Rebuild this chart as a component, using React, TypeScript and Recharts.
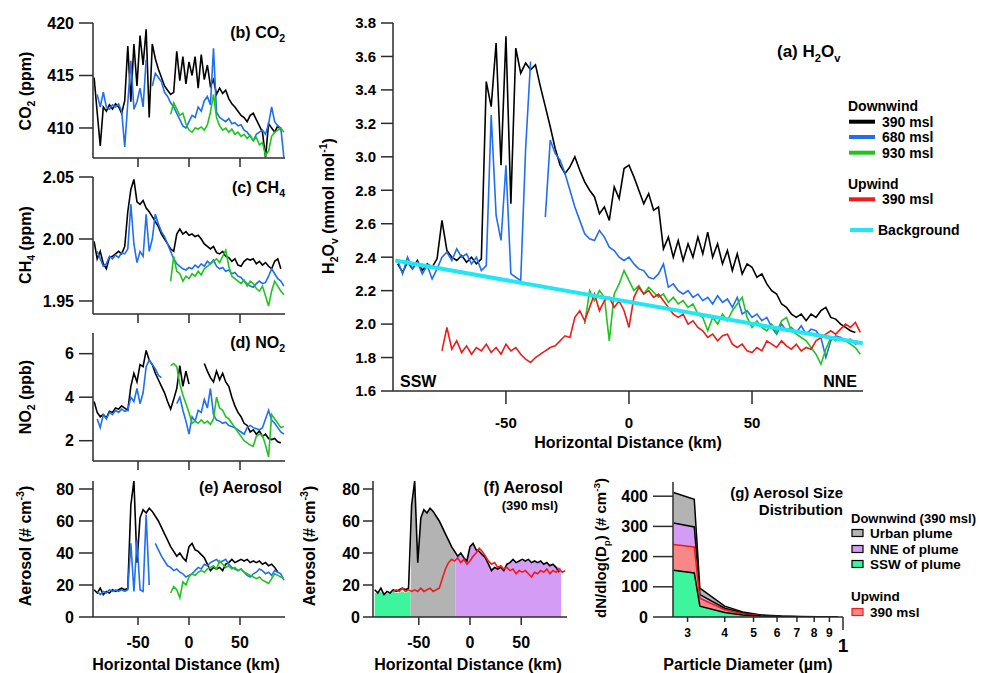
import React from 'react';
import { LineChart, ComposedChart, Line, Area, XAxis, YAxis } from 'recharts';

// ---------- distance grids (km) ----------
const KM_A = [
  -94, -92, -90, -88, -86, -84, -82, -80, -78, -76,
  -74, -72, -70, -68, -66, -64, -62, -60, -58, -56,
  -54, -52, -50, -48, -46, -44, -42, -40, -38, -36,
  -34, -32, -30, -28, -26, -24, -22, -20, -18, -16,
  -14, -12, -10, -8, -6, -4, -2, 0, 2, 4,
  6, 8, 10, 12, 14, 16, 18, 20, 22, 24,
  26, 28, 30, 32, 34, 36, 38, 40, 42, 44,
  46, 48, 50, 52, 54, 56, 58, 60, 62, 64,
  66, 68, 70, 72, 74, 76, 78, 80, 82, 84,
  86, 88, 90, 92, 94,
];
const KM_S = [
  -93, -90, -87, -84, -81, -78, -75, -72, -69, -66,
  -63, -60, -57, -54, -51, -48, -45, -42, -39, -36,
  -33, -30, -27, -24, -21, -18, -15, -12, -9, -6,
  -3, 0, 3, 6, 9, 12, 15, 18, 21, 24,
  27, 30, 33, 36, 39, 42, 45, 48, 51, 54,
  57, 60, 63, 66, 69, 72, 75, 78, 81, 84,
  87, 90, 93,
];

// ---------- (a) H2Ov (mmol/mol) ----------
const A_BLACK = [
  2.36, 2.31, 2.37, 2.33, 2.38, 2.32, 2.36, 2.34, 2.39, 2.62,
  2.44, 2.40, 2.38, 2.41, 2.37, 2.40, 2.36, 2.39, 3.45, 3.30,
  3.68, 2.95, 3.72, 2.72, 3.65, 3.50, 3.56, 3.52, 3.55, 3.42,
  3.30, 3.18, 3.05, 2.95, 2.90, 2.94, 3.00, 2.92, 2.85, 2.80,
  2.76, 2.66, 2.70, 2.62, 2.82, 2.75, 2.93, 2.95, 2.88, 2.80,
  2.72, 2.78, 2.68, 2.70, 2.45, 2.52, 2.40, 2.50, 2.38, 2.48,
  2.40, 2.52, 2.42, 2.55, 2.40, 2.48, 2.36, 2.44, 2.32, 2.42,
  2.30, 2.36, 2.34, 2.28, 2.30, 2.24, 2.20, 2.18, 2.12, 2.10,
  2.06, 2.04, 2.06, 2.02, 2.06, 2.04, 2.08, 2.10, 2.04, 2.03,
  2.00, 1.98, 1.96, 1.95, null,
];
const A_BLUE = [
  2.38, 2.30, 2.40, 2.33, 2.37, 2.30, 2.35, 2.27, 2.33, 2.40,
  2.43, 2.38, 2.45, 2.40, 2.42, 2.36, 2.40, 2.32, 2.35, 3.25,
  2.65, 2.50, 2.95, 2.30, 2.28, 2.26, 3.05, 3.57, null, null,
  2.64, 3.10, 3.02, 2.98, 2.90, 2.80, 2.70, 2.62, 2.54, 2.51,
  2.50, 2.56, 2.52, 2.46, 2.44, 2.40, 2.38, 2.40, 2.36, 2.33,
  2.32, 2.28, 2.27, 2.30, 2.36, 2.22, 2.24, 2.20, 2.18, 2.20,
  2.16, 2.18, 2.14, 2.16, 2.12, 2.17, 2.13, 2.15, 2.10, 2.16,
  2.06, 2.08, 2.04, 2.06, 2.02, 2.04, 1.98, 1.94, 2.00, 1.96,
  1.98, 1.95, 1.99, 1.94, 1.97, 1.96, 1.92, 1.80, 1.90, 1.93,
  1.92, 1.90, 1.91, 1.88, 1.89,
];
const A_GREEN = [
  null, null, null, null, null, null, null, null, null, null,
  null, null, null, null, null, null, null, null, null, null,
  null, null, null, null, null, null, null, null, null, null,
  null, null, null, null, null, null, null, null, 2.00, 2.20,
  2.14, 2.20, 2.16, 1.90, 2.18, 2.24, 2.32, 2.26, 2.20, 2.23,
  2.18, 2.22, 2.19, 2.16, 2.18, 2.13, 2.16, 2.12, 2.14, 2.10,
  2.12, 2.06, 2.04, 1.96, 2.04, 2.00, 2.06, 2.02, 2.08, 2.12,
  2.16, 2.04, 1.98, 2.02, 1.98, 1.96, 2.00, 1.95, 2.02, 2.04,
  1.96, 1.94, 1.92, 1.90, 1.86, 1.82, 1.76, 1.85, 1.92, 1.90,
  1.92, 1.90, 1.88, 1.86, 1.82,
];
const A_RED = [
  null, null, null, null, null, null, null, null, null, 1.84,
  1.98, 1.85, 1.90, 1.83, 1.87, 1.82, 1.86, 1.84, 1.88, 1.83,
  1.86, 1.82, 1.88, 1.84, 1.86, 1.82, 1.79, 1.77, 1.80, 1.82,
  1.84, 1.86, 1.87, 1.90, 1.93, 1.92, 2.04, 2.08, 2.02, 2.10,
  2.18, 2.08, 2.14, 2.16, 2.10, 2.14, 2.08, 1.98, 2.16, 2.22,
  2.18, 2.20, 2.16, 2.18, 2.14, 2.10, 2.06, 2.04, 2.06, 2.00,
  2.02, 1.98, 1.96, 1.92, 1.94, 1.90, 1.93, 1.94, 1.88, 1.86,
  1.88, 1.84, 1.83, 1.86, 1.84, 1.90, 1.88, 1.86, 1.90, 1.87,
  1.85, 1.88, 1.84, 1.86, 1.85, 1.90, 1.92, 1.94, 1.96, 1.94,
  1.97, 2.00, 1.98, 2.01, 1.95,
];
const BG_KM = [-95, 95];
const BG = [2.38, 1.885];

// ---------- (b) CO2 (ppm) ----------
const B_BLACK = [
  414.8, 411.5, 408.3, 412.0, 411.6, 412.2, 411.8, 412.3, 412.0, 411.4,
  412.6, 417.8, 412.5, 418.0, 414.0, 418.8, 416.0, 419.4, 411.0, 418.0,
  416.6, 415.6, 414.8, 414.0, 413.6, 413.2, 413.4, 417.3, 414.5, 416.8,
  414.2, 416.3, 415.0, 416.8, 413.8, 417.0, 414.6, 416.0, 414.0, 414.6,
  413.2, 413.8, 413.3, 413.6, 412.8, 412.3, 412.0, 411.6, 411.2, 411.0,
  410.6, 411.2, 411.4, 410.8, 410.2, 409.6, 407.2, 410.4, 410.0, 409.6,
  410.2, 409.8, null,
];
const B_BLUE = [
  null, 413.2, 412.0, 413.4, 412.0, 411.8, 412.2, 412.0, 412.3, 411.6,
  408.2, 412.4, 416.4, 411.8, 412.5, 413.8, 412.0, 416.5, null, 414.0,
  415.2, 414.8, 414.4, 413.4, 413.0, 412.4, 412.0, 411.4, 410.8, 410.2,
  410.0, 410.6, 411.2, 411.0, 412.0, 411.6, 412.6, 413.0, 412.2, 417.6,
  411.5, 411.0, 410.8, 410.6, 410.9, 410.4, 410.5, 410.2, 410.3, 409.8,
  409.6, 409.2, 408.8, 409.4, 409.6, 409.8, 409.4, 410.4, 412.0, 410.6,
  410.2, 410.0, 407.2,
];
const B_GREEN = [
  null, null, null, null, null, null, null, null, null, null,
  null, null, null, null, null, null, null, null, null, null,
  null, null, null, null, null, 411.3, 412.4, 411.8, 411.2, 411.4,
  410.4, 409.8, 409.6, 410.0, 409.9, 410.1, 409.8, 410.3, 411.5, 413.2,
  411.0, 410.2, 409.8, 410.0, 409.6, 409.9, 409.4, 409.6, 409.2, 409.4,
  409.0, 409.3, 408.8, 409.1, 408.4, 408.6, 407.4, 407.8, 409.2, 409.6,
  409.8, 410.0, 409.6,
];

// ---------- (c) CH4 (ppm) ----------
const C_BLACK = [
  1.998, 1.984, 1.990, 1.980, 1.976, 1.985, 1.986, 1.988, 1.990, 1.988,
  1.994, 2.022, 2.040, 2.048, 2.030, 2.028, 2.031, 2.025, 2.022, 2.018,
  2.014, 2.010, 2.004, 2.000, 1.996, 1.992, 1.990, 2.004, 2.008, 2.004,
  2.006, 2.003, 2.004, 2.002, 2.003, 2.000, 1.996, 1.994, 1.992, 1.994,
  1.989, 1.988, 1.990, 1.986, 1.985, 1.982, 1.984, 1.979, 1.978, 1.982,
  1.984, 1.983, 1.984, 1.980, 1.982, 1.979, 1.981, 1.978, 1.976, 1.982,
  1.984, 1.976, null,
];
const C_BLUE = [
  null, 1.990, 1.984, 1.978, 1.980, 1.986, 1.984, 1.987, 1.985, 1.989,
  1.988, 1.992, 2.028, 1.996, 1.981, 1.990, 1.986, 2.020, 1.990, 2.000,
  2.020, 2.012, 2.006, 2.002, 1.996, 1.990, 1.984, 1.980, 1.978, 1.976,
  1.975, 1.977, 1.976, 1.979, 1.977, 1.980, 1.978, 1.982, 1.980, 1.983,
  1.978, 1.976, 1.977, 1.974, 1.975, 1.972, 1.973, 1.970, 1.969, 1.966,
  1.964, 1.962, 1.961, 1.964, 1.966, 1.964, 1.965, 1.970, 1.976, 1.972,
  1.968, 1.966, 1.962,
];
const C_GREEN = [
  null, null, null, null, null, null, null, null, null, null,
  null, null, null, null, null, null, null, null, null, null,
  null, null, null, null, null, 1.966, 1.986, 1.974, 1.972, 1.966,
  1.970, 1.968, 1.972, 1.970, 1.974, 1.971, 1.976, 1.978, 1.980, 1.982,
  1.984, 1.981, 1.986, 1.991, 1.978, 1.970, 1.968, 1.966, 1.964, 1.967,
  1.962, 1.966, 1.964, 1.960, 1.958, 1.962, 1.954, 1.946, 1.958, 1.966,
  1.962, 1.958, 1.955,
];

// ---------- (d) NO2 (ppb) ----------
const D_BLACK = [
  3.80, 3.30, 3.10, 3.20, 3.05, 3.35, 3.30, 3.50, 3.45, 3.60,
  3.50, 3.40, 4.50, 5.10, 4.70, 5.50, 5.40, 6.15, 5.70, 5.50,
  5.10, 4.80, 4.50, 4.20, 3.80, 3.45, 3.90, 4.40, 5.45, 4.50,
  5.20, 4.60, null, null, null, null, 5.55, 5.20, 4.90, 4.70,
  5.20, 4.80, 5.10, 4.70, 4.50, 4.00, 3.60, 3.30, 3.10, 2.80,
  2.70, 2.40, 2.50, 2.30, 2.45, 2.20, 2.30, 2.10, 2.05, 2.10,
  1.95, 1.90, null,
];
const D_BLUE = [
  null, 3.00, 2.60, 3.20, 3.00, 3.30, 3.20, 3.40, 3.30, 3.45,
  3.35, 3.40, 4.00, 3.80, 4.40, 3.70, 4.20, 5.40, 5.70, 5.50,
  5.30, 5.00, 4.90, null, null, null, null, 3.70, 4.00, 3.40,
  2.90, 2.30, 3.10, 2.90, 3.40, 3.30, 3.90, 3.50, 4.40, 3.20,
  2.95, 2.90, 2.80, 2.85, 2.70, 2.65, 2.60, 2.50, 2.40, 2.30,
  2.60, 2.70, 2.60, 2.55, 2.50, 2.60, 3.00, 3.40, 2.95, 2.80,
  2.60, 2.40, 2.30,
];
const D_GREEN = [
  null, null, null, null, null, null, null, null, null, null,
  null, null, null, null, null, null, null, null, null, null,
  null, null, null, null, null, 5.45, 5.55, 5.40, 4.60, 4.10,
  3.70, 3.30, 2.80, 2.90, 2.80, 2.95, 2.80, 2.90, 2.75, 3.00,
  4.00, 3.50, 3.40, 3.10, 3.00, 2.80, 2.60, 2.40, 2.20, 2.00,
  1.90, 1.80, 1.75, 2.20, 2.30, 2.25, 1.80, 1.25, 3.20, 3.00,
  2.80, 2.60, 2.65,
];

// ---------- (e) Aerosol (# cm-3) ----------
const E_BLACK = [
  17, 15, 18, 14, 16, 15, 17, 16, 17, 18,
  17, 18, 70, 85, 34, 62, 67, 65, 68, 66,
  63, 60, 56, 52, 48, 44, 41, 38, 40, 37,
  35, 44, 46, 42, 41, 39, 37, 33, 29, 31,
  30, 31, 29, 33, 34, 36, 34, 35, 36, 35,
  36, 34, 35, 34, 35, 33, 34, 32, 33, 31,
  28, null, null,
];
const E_BLUE = [
  null, 16, 14, 16, 15, 17, 16, 17, 16, 17,
  16, 17, 46, 16, 48, 17, 16, 64, 20, null,
  46, 42, 38, 35, 32, 31, 29, 30, 28, 27,
  25, 26, 27, 29, 31, 30, 33, 32, 34, 35,
  36, 34, 35, 36, 33, 31, 30, 29, 30, 28,
  26, 25, 27, 28, 30, 29, 27, 28, 26, 29,
  28, 27, 23,
];
const E_GREEN = [
  null, null, null, null, null, null, null, null, null, null,
  null, null, null, null, null, null, null, null, null, null,
  null, null, null, null, null, 15, 19, 17, 12, 22,
  20, 25, 27, 26, 28, 29, 28, 30, 31, 32,
  30, 35, 33, 31, 32, 30, 31, 29, 30, 28,
  27, 26, 25, 24, 25, 23, 22, 21, 24, 27,
  26, 25, 24,
];

// ---------- (f) Aerosol at 390 msl ----------
const F_RED = [
  null, null, null, null, null, null, 16, 17, 16, 18,
  16, 17, 16, 17, 16, 18, 16, 17, 18, 16,
  17, 18, 24, 30, 34, 36, 35, 37, 34, 36,
  33, 35, 38, 40, 43, 41, 38, 35, 33, 34,
  31, 32, 30, 31, 29, 30, 27, 29, 28, 29,
  27, 25, 28, 27, 29, 28, 30, 27, 29, 28,
  30, 28, 29,
];
const SSW_KM = [-93, -90, -87, -84, -81, -78, -75, -72, -69, -66, -63, -60, -58];
const SSW_VAL = [15, 15, 16, 14, 15, 15, 16, 15, 15, 16, 15, 16, 16];
const URB_KM = [-58, -57, -54, -51, -48, -45, -42, -39, -36, -33, -30, -27, -24, -21, -18, -15, -14];
const URB_VAL = [17, 70, 85, 34, 62, 67, 65, 68, 66, 63, 60, 56, 52, 48, 44, 41, 40];
const NNE_KM = [
  -14, -12, -9, -6, -3, 0, 3, 6, 9, 12, 15, 18, 21, 24, 27, 30, 33, 36,
  39, 42, 45, 48, 51, 54, 57, 60, 63, 66, 69, 72, 75, 78, 81, 84, 87, 89,
];
const NNE_VAL = [
  40, 38, 40, 37, 35, 44, 46, 42, 41, 39, 37, 33, 30, 31, 30, 31, 30, 33,
  34, 35, 34, 35, 35, 35, 35, 34, 35, 34, 35, 33, 34, 33, 33, 32, 31, 31,
];

// ---------- (g) Aerosol size distribution ----------
const G_DP = [2.69, 3.16, 3.3, 4.0, 4.6, 5.3, 6.2, 7.2, 8.3, 9.6];
const G_URBAN = [412, 390, 96, 36, 17, 7, 3, 1.5, 1, 0.5];
const G_NNE = [311, 298, 74, 29, 13, 5, 2, 1, 0.5, 0.3];
const G_UP = [240, 232, 62, 24, 11, 4.5, 2, 1, 0.5, 0.3];
const G_SSW = [155, 146, 36, 15, 7, 3, 1.5, 0.8, 0.4, 0.2];

// ---------- tick values ----------
const KM_TICKS = [-50, 0, 50];
const A_YTICKS = [1.6, 1.8, 2.0, 2.2, 2.4, 2.6, 2.8, 3.0, 3.2, 3.4, 3.6, 3.8];
const B_YTICKS = [410, 415, 420];
const C_YTICKS = [1.95, 2.0, 2.05];
const D_YTICKS = [2, 4, 6];
const E_YTICKS = [0, 20, 40, 60, 80];
const G_YTICKS = [0, 100, 200, 300, 400];
const G_XTICKS = [3, 4, 5, 6, 7, 8, 9, 10];

// ---------- styling ----------
const FONT = "'Liberation Sans', Arial, Helvetica, sans-serif";
const AXIS = '#2b2b2b';
const COL = {
  black: '#000000',
  blue: '#1f6ff0',
  green: '#1fc41f',
  red: '#ee1b1b',
  cyan: '#22e6f2',
  gray: '#b3b3b3',
  purple: '#d59cf6',
  mint: '#3cf59c',
  salmon: '#f88888',
};

type Pt = { x: number; y: number | null };
const pts = (xs: number[], ys: (number | null)[]): Pt[] => xs.map((x, i) => ({ x, y: ys[i] }));

const L = 70;
const T = 8;
const R = 8;
const B = 50;

const tickStyle = (size: number) => ({ fill: '#000', fontSize: size, fontWeight: 'bold', fontFamily: FONT });
const axisLine = { stroke: AXIS, strokeWidth: 1.5 };

function Panel(props: { x0: number; y0: number; x1: number; y1: number; composed?: boolean; children: React.ReactNode }) {
  const { x0, y0, x1, y1, composed, children } = props;
  const width = x1 - x0 + L + R;
  const height = y1 - y0 + T + B;
  const Chart: any = composed ? ComposedChart : LineChart;
  return (
    <div style={{ position: 'absolute', left: x0 - L, top: y0 - T }}>
      <Chart width={width} height={height} margin={{ top: T, right: R, left: 0, bottom: 0 }}>
        {children}
      </Chart>
    </div>
  );
}

type Part = string | { t: string; s: 'sub' | 'sup' };
function RichText(props: { x: number; y: number; parts: Part[]; size: number; anchor?: 'start' | 'middle' | 'end'; rotate?: boolean }) {
  const { x, y, parts, size, anchor = 'start', rotate = false } = props;
  let shift = 0;
  const kids = parts.map((p, i) => {
    if (typeof p === 'string') {
      const dy = -shift;
      shift = 0;
      return (
        <tspan key={i} dy={dy}>
          {p}
        </tspan>
      );
    }
    const target = p.s === 'sub' ? size * 0.28 : -size * 0.42;
    const dy = target - shift;
    shift = target;
    return (
      <tspan key={i} dy={dy} fontSize={size * 0.66}>
        {p.t}
      </tspan>
    );
  });
  return (
    <text
      x={x}
      y={y}
      fontSize={size}
      fontWeight="bold"
      fontFamily={FONT}
      fill="#000"
      textAnchor={anchor}
      transform={rotate ? `rotate(-90 ${x} ${y})` : undefined}
    >
      {kids}
    </text>
  );
}

const LogTick = (props: any) => {
  const { x, y, payload } = props;
  const v = payload.value;
  const big = v >= 10;
  return (
    <g>
      <line x1={x} x2={x} y1={y} y2={y + (big ? 13 : 5)} stroke={AXIS} strokeWidth={1.5} />
      <text
        x={x}
        y={big ? y + 35 : y + 20}
        textAnchor="middle"
        fontSize={big ? 19 : 12}
        fontWeight="bold"
        fontFamily={FONT}
        fill="#000"
      >
        {big ? '1' : String(v)}
      </text>
    </g>
  );
};

const blank = () => '';

function kmAxis(domain: [number, number], labels: boolean, tickSize: number, tickMargin: number, fontSize: number) {
  return (
    <XAxis
      type="number"
      dataKey="x"
      domain={domain}
      allowDataOverflow
      ticks={KM_TICKS}
      interval={0}
      height={B}
      axisLine={axisLine}
      tickLine={axisLine}
      tickSize={tickSize}
      tickMargin={tickMargin}
      tick={tickStyle(fontSize)}
      tickFormatter={labels ? undefined : blank}
    />
  );
}

function yAxis(domain: [number, number], ticks: number[], fmt: (v: number) => string, tickSize: number, tickMargin: number, fontSize: number) {
  return (
    <YAxis
      type="number"
      domain={domain}
      allowDataOverflow
      ticks={ticks}
      interval={0}
      width={L}
      axisLine={axisLine}
      tickLine={axisLine}
      tickSize={tickSize}
      tickMargin={tickMargin}
      tick={tickStyle(fontSize)}
      tickFormatter={fmt}
    />
  );
}

function series(xs: number[], ys: (number | null)[], color: string, w = 1.6) {
  return (
    <Line
      data={pts(xs, ys)}
      dataKey="y"
      type="linear"
      stroke={color}
      strokeWidth={w}
      dot={false}
      activeDot={false}
      connectNulls={false}
      isAnimationActive={false}
    />
  );
}

const f0 = (v: number) => String(v);
const f1 = (v: number) => v.toFixed(1);
const f2 = (v: number) => v.toFixed(2);

const SMALL_KM: [number, number] = [-94.1, 94.1];

export default function App() {
  return (
    <div style={{ position: 'absolute', left: 0, top: 0, width: 983, height: 673, background: '#fff', overflow: 'hidden' }}>
      {/* (a) H2Ov */}
      <Panel x0={393} y0={23} x1={863} y1={391}>
        {kmAxis([-95.9, 95.1], true, 13, 13, 15)}
        {yAxis([1.6, 3.8], A_YTICKS, f1, 12, 5, 15)}
        {series(KM_A, A_BLACK, COL.black)}
        {series(KM_A, A_BLUE, COL.blue)}
        {series(KM_A, A_GREEN, COL.green)}
        {series(KM_A, A_RED, COL.red)}
        {series(BG_KM, BG, COL.cyan, 4)}
      </Panel>

      {/* (b) CO2 */}
      <Panel x0={93} y0={23} x1={285} y1={158}>
        {kmAxis(SMALL_KM, false, 9, 4, 16)}
        {yAxis([407.14, 420], B_YTICKS, f0, 14, 5, 16)}
        {series(KM_S, B_BLACK, COL.black)}
        {series(KM_S, B_BLUE, COL.blue)}
        {series(KM_S, B_GREEN, COL.green)}
      </Panel>

      {/* (c) CH4 */}
      <Panel x0={93} y0={177} x1={285} y1={314}>
        {kmAxis(SMALL_KM, false, 9, 4, 16)}
        {yAxis([1.9395, 2.05], C_YTICKS, f2, 14, 5, 16)}
        {series(KM_S, C_BLACK, COL.black)}
        {series(KM_S, C_BLUE, COL.blue)}
        {series(KM_S, C_GREEN, COL.green)}
      </Panel>

      {/* (d) NO2 */}
      <Panel x0={93} y0={333} x1={285} y1={461}>
        {kmAxis(SMALL_KM, false, 9, 4, 16)}
        {yAxis([1.067, 6.95], D_YTICKS, f0, 14, 5, 16)}
        {series(KM_S, D_BLACK, COL.black)}
        {series(KM_S, D_BLUE, COL.blue)}
        {series(KM_S, D_GREEN, COL.green)}
      </Panel>

      {/* (e) Aerosol */}
      <Panel x0={93} y0={481} x1={285} y1={617}>
        {kmAxis(SMALL_KM, true, 8, 12, 16)}
        {yAxis([0, 85], E_YTICKS, f0, 14, 5, 16)}
        {series(KM_S, E_BLACK, COL.black)}
        {series(KM_S, E_BLUE, COL.blue)}
        {series(KM_S, E_GREEN, COL.green)}
      </Panel>

      {/* (f) Aerosol 390 msl */}
      <Panel x0={373} y0={481} x1={567} y1={617} composed>
        {kmAxis([-94.7, 94.7], true, 8, 12, 16)}
        {yAxis([0, 85], E_YTICKS, f0, 10, 3, 16)}
        <Area data={pts(SSW_KM, SSW_VAL)} dataKey="y" type="linear" fill={COL.mint} fillOpacity={1} stroke="none" isAnimationActive={false} />
        <Area data={pts(URB_KM, URB_VAL)} dataKey="y" type="linear" fill={COL.gray} fillOpacity={1} stroke="none" isAnimationActive={false} />
        <Area data={pts(NNE_KM, NNE_VAL)} dataKey="y" type="linear" fill={COL.purple} fillOpacity={1} stroke="none" isAnimationActive={false} />
        {series(KM_S, E_BLACK, COL.black)}
        {series(KM_S, F_RED, COL.red)}
      </Panel>

      {/* (g) size distribution */}
      <Panel x0={673} y0={482} x1={843} y1={617} composed>
        <XAxis
          type="number"
          dataKey="x"
          scale="log"
          domain={[2.68, 10]}
          allowDataOverflow
          ticks={G_XTICKS}
          interval={0}
          height={B}
          axisLine={axisLine}
          tickLine={false}
          tickSize={0}
          tickMargin={0}
          tick={<LogTick />}
        />
        {yAxis([0, 447], G_YTICKS, f0, 20, 5, 16)}
        <Area data={pts(G_DP, G_URBAN)} dataKey="y" type="linear" fill={COL.gray} fillOpacity={1} stroke="#000" strokeWidth={1.5} isAnimationActive={false} />
        <Area data={pts(G_DP, G_NNE)} dataKey="y" type="linear" fill={COL.purple} fillOpacity={1} stroke="#000" strokeWidth={1.5} isAnimationActive={false} />
        <Area data={pts(G_DP, G_UP)} dataKey="y" type="linear" fill={COL.salmon} fillOpacity={1} stroke={COL.red} strokeWidth={1.5} isAnimationActive={false} />
        <Area data={pts(G_DP, G_SSW)} dataKey="y" type="linear" fill={COL.mint} fillOpacity={1} stroke="#000" strokeWidth={1.5} isAnimationActive={false} />
      </Panel>

      {/* text overlay */}
      <svg width={983} height={673} style={{ position: 'absolute', left: 0, top: 0, pointerEvents: 'none' }}>
        {/* (a) */}
        <RichText x={777} y={57} size={17} parts={['(a) H', { t: '2', s: 'sub' }, 'O', { t: 'v', s: 'sub' }]} />
        <RichText x={848} y={111} size={14} parts={['Downwind']} />
        <line x1={849} x2={875} y1={121.7} y2={121.7} stroke={COL.black} strokeWidth={4} />
        <RichText x={882} y={126.5} size={14} parts={['390 msl']} />
        <line x1={849} x2={875} y1={137} y2={137} stroke={COL.blue} strokeWidth={4} />
        <RichText x={882} y={142} size={14} parts={['680 msl']} />
        <line x1={849} x2={875} y1={152.7} y2={152.7} stroke={COL.green} strokeWidth={4} />
        <RichText x={882} y={157.5} size={14} parts={['930 msl']} />
        <RichText x={848} y={189} size={14} parts={['Upwind']} />
        <line x1={849} x2={875} y1={199.3} y2={199.3} stroke={COL.red} strokeWidth={4} />
        <RichText x={882} y={204} size={14} parts={['390 msl']} />
        <line x1={850} x2={873} y1={230} y2={230} stroke={COL.cyan} strokeWidth={4} />
        <RichText x={878} y={235} size={14} parts={['Background']} />
        <RichText x={400} y={387} size={16} parts={['SSW']} />
        <RichText x={857} y={387} size={16} anchor="end" parts={['NNE']} />
        <RichText x={334} y={206} size={16} anchor="middle" rotate parts={['H', { t: '2', s: 'sub' }, 'O', { t: 'v', s: 'sub' }, ' (mmol mol', { t: '-1', s: 'sup' }, ')']} />
        <RichText x={628} y={448} size={16} anchor="middle" parts={['Horizontal Distance (km)']} />

        {/* (b)-(d) */}
        <RichText x={285} y={38} size={16} anchor="end" parts={['(b) CO', { t: '2', s: 'sub' }]} />
        <RichText x={31} y={91} size={16} anchor="middle" rotate parts={['CO', { t: '2', s: 'sub' }, ' (ppm)']} />
        <RichText x={285} y={193} size={16} anchor="end" parts={['(c) CH', { t: '4', s: 'sub' }]} />
        <RichText x={31} y={245} size={16} anchor="middle" rotate parts={['CH', { t: '4', s: 'sub' }, ' (ppm)']} />
        <RichText x={285} y={348} size={16} anchor="end" parts={['(d) NO', { t: '2', s: 'sub' }]} />
        <RichText x={31} y={397} size={16} anchor="middle" rotate parts={['NO', { t: '2', s: 'sub' }, ' (ppb)']} />

        {/* (e) */}
        <RichText x={282} y={493} size={16} anchor="end" parts={['(e) Aerosol']} />
        <RichText x={31} y={546} size={16} anchor="middle" rotate parts={['Aerosol (# cm', { t: '-3', s: 'sup' }, ')']} />
        <RichText x={186} y={670} size={16} anchor="middle" parts={['Horizontal Distance (km)']} />

        {/* (f) */}
        <RichText x={563} y={493} size={16} anchor="end" parts={['(f) Aerosol']} />
        <RichText x={558} y={510} size={13} anchor="end" parts={['(390 msl)']} />
        <RichText x={315} y={546} size={16} anchor="middle" rotate parts={['Aerosol (# cm', { t: '-3', s: 'sup' }, ')']} />
        <RichText x={468} y={670} size={16} anchor="middle" parts={['Horizontal Distance (km)']} />

        {/* (g) */}
        <RichText x={843} y={498} size={15} anchor="end" parts={['(g) Aerosol Size']} />
        <RichText x={843} y={515} size={15} anchor="end" parts={['Distribution']} />
        <RichText x={606} y={548} size={15} anchor="middle" rotate parts={['dN/dlog(D', { t: 'p', s: 'sub' }, ') (# cm', { t: '-3', s: 'sup' }, ')']} />
        <RichText x={748} y={670} size={16} anchor="middle" parts={['Particle Diameter (µm)']} />
        <RichText x={851} y={523} size={13} parts={['Downwind (390 msl)']} />
        <rect x={852} y={529.5} width={11} height={7} fill={COL.gray} stroke="#000" strokeWidth={1.2} />
        <RichText x={870} y={538} size={13.5} parts={['Urban plume']} />
        <rect x={852} y={545.5} width={11} height={7} fill={COL.purple} stroke="#000" strokeWidth={1.2} />
        <RichText x={870} y={554} size={13.5} parts={['NNE of plume']} />
        <rect x={852} y={560.5} width={11} height={7} fill={COL.mint} stroke="#000" strokeWidth={1.2} />
        <RichText x={870} y={569} size={13.5} parts={['SSW of plume']} />
        <RichText x={851} y={601} size={13.5} parts={['Upwind']} />
        <rect x={852} y={608.5} width={11} height={7} fill={COL.salmon} stroke={COL.red} strokeWidth={1.2} />
        <RichText x={870} y={617} size={13.5} parts={['390 msl']} />
      </svg>
    </div>
  );
}
